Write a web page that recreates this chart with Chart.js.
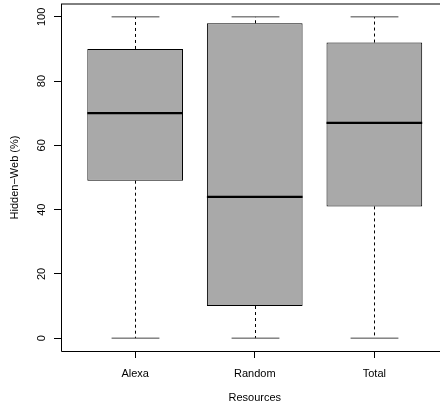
<!DOCTYPE html>
<html>
<head>
<meta charset="utf-8">
<script src="https://cdn.jsdelivr.net/npm/chart.js@4.4.1/dist/chart.umd.min.js"></script>
<style>
html,body{margin:0;padding:0;background:#fff;overflow:hidden;}
canvas{display:block;}
</style>
</head>
<body>
<canvas id="c" width="450" height="408"></canvas>
<script>
const categories = ['Alexa', 'Random', 'Total'];
const whiskerLow = [0, 0, 0];
const quartile1 = [49, 10, 41];
const medians = [70, 44, 67];
const quartile3 = [90, 98, 92];
const whiskerHigh = [100, 100, 100];
const yTicks = [0, 20, 40, 60, 80, 100];
const xTicks = [1, 2, 3];

const FONT = 'Liberation Sans, Arial, Helvetica, sans-serif';

const boxData = categories.map((c, i) => ({x: i + 1, y: [quartile1[i], quartile3[i]]}));

const boxPlugin = {
  id: 'boxExtras',
  beforeDatasetsDraw(chart) {
    const {ctx} = chart;
    const xs = chart.scales.x, ys = chart.scales.y;
    const unit = xs.getPixelForValue(2) - xs.getPixelForValue(1);
    ctx.save();
    ctx.lineWidth = 1;
    categories.forEach((c, i) => {
      const cx = Math.round(xs.getPixelForValue(i + 1)) + 0.5;
      ctx.strokeStyle = '#000';
      ctx.setLineDash([3, 3]);
      ctx.beginPath();
      ctx.moveTo(cx, ys.getPixelForValue(quartile3[i]));
      ctx.lineTo(cx, ys.getPixelForValue(whiskerHigh[i]));
      ctx.moveTo(cx, ys.getPixelForValue(quartile1[i]));
      ctx.lineTo(cx, ys.getPixelForValue(whiskerLow[i]));
      ctx.stroke();
      ctx.setLineDash([]);
      ctx.strokeStyle = '#444';
      const hw = unit * 0.2;
      ctx.beginPath();
      ctx.moveTo(cx - hw, ys.getPixelForValue(whiskerHigh[i]));
      ctx.lineTo(cx + hw, ys.getPixelForValue(whiskerHigh[i]));
      ctx.moveTo(cx - hw, ys.getPixelForValue(whiskerLow[i]));
      ctx.lineTo(cx + hw, ys.getPixelForValue(whiskerLow[i]));
      ctx.stroke();
    });
    ctx.restore();
  },
  afterDatasetsDraw(chart) {
    const {ctx} = chart;
    const xs = chart.scales.x, ys = chart.scales.y;
    const unit = xs.getPixelForValue(2) - xs.getPixelForValue(1);
    ctx.save();
    ctx.strokeStyle = '#000';
    ctx.lineWidth = 2.25;
    categories.forEach((c, i) => {
      const cx = xs.getPixelForValue(i + 1);
      const hw = unit * 0.4;
      const y = ys.getPixelForValue(medians[i]);
      ctx.beginPath();
      ctx.moveTo(cx - hw, y);
      ctx.lineTo(cx + hw, y);
      ctx.stroke();
    });
    ctx.restore();
  },
  afterDraw(chart) {
    const {ctx, chartArea} = chart;
    const ys = chart.scales.y;
    ctx.save();
    ctx.strokeStyle = '#000';
    ctx.lineWidth = 1;
    ctx.beginPath();
    ctx.moveTo(chartArea.left + 0.5, chartArea.top);
    ctx.lineTo(chartArea.left + 0.5, chartArea.bottom + 0.5);
    ctx.lineTo(chartArea.right, chartArea.bottom + 0.5);
    ctx.moveTo(chartArea.left, chartArea.top);
    ctx.lineTo(chartArea.right, chartArea.top);
    ctx.lineTo(chartArea.right, chartArea.bottom);
    ctx.stroke();
    ctx.fillStyle = '#000';
    ctx.font = '11px ' + FONT;
    ctx.textAlign = 'center';
    ctx.textBaseline = 'middle';
    yTicks.forEach(v => {
      const y = ys.getPixelForValue(v);
      ctx.save();
      ctx.translate(41.5, y);
      ctx.rotate(-Math.PI / 2);
      ctx.fillText(String(v), 0, 0);
      ctx.restore();
    });
    ctx.restore();
  }
};

new Chart(document.getElementById('c'), {
  type: 'bar',
  data: {
    datasets: [{
      data: boxData,
      backgroundColor: '#A9A9A9',
      borderColor: '#000',
      borderWidth: 1,
      borderSkipped: false,
      barPercentage: 1,
      categoryPercentage: 0.8
    }]
  },
  options: {
    responsive: false,
    devicePixelRatio: 1,
    animation: false,
    layout: {padding: {left: 0, right: 1.5, top: 4, bottom: 0}},
    plugins: {legend: {display: false}, tooltip: {enabled: false}},
    scales: {
      x: {
        type: 'linear',
        offset: false,
        min: 0.38,
        max: 3.62,
        afterBuildTicks(scale) { scale.ticks = xTicks.map(v => ({value: v})); },
        afterFit(scale) { scale.height = 57; },
        ticks: {
          color: '#000',
          font: {family: FONT, size: 11},
          padding: 9,
          maxRotation: 0,
          callback: (v) => categories[v - 1]
        },
        grid: {offset: false, drawOnChartArea: false, drawTicks: true, tickLength: 7, color: '#000'},
        border: {display: false},
        title: {
          display: true,
          text: 'Resources',
          color: '#000',
          font: {family: FONT, size: 11},
          padding: {top: 0, bottom: 3}
        }
      },
      y: {
        type: 'linear',
        min: -4,
        max: 104,
        afterBuildTicks(scale) { scale.ticks = yTicks.map(v => ({value: v})); },
        afterFit(scale) { scale.width = 61; },
        ticks: {display: false},
        grid: {drawOnChartArea: false, drawTicks: true, tickLength: 7, color: '#000'},
        border: {display: false},
        title: {
          display: true,
          text: 'Hidden\u2212Web (%)',
          color: '#000',
          font: {family: FONT, size: 11},
          padding: {top: 8.4, bottom: 0}
        }
      }
    }
  },
  plugins: [boxPlugin]
});
</script>
</body>
</html>
